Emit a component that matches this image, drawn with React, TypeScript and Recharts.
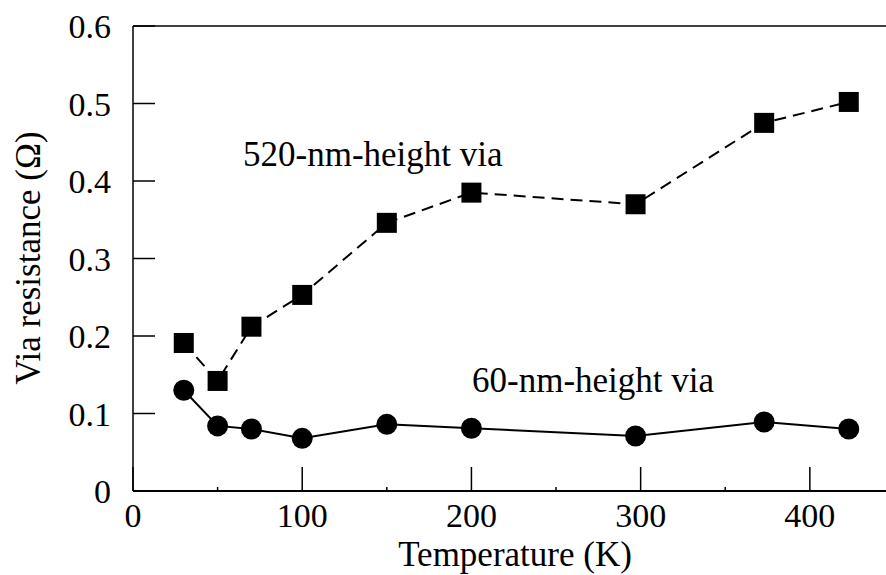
import React from "react";
import {
  LineChart,
  Line,
  XAxis,
  YAxis,
  ReferenceLine,
  Customized,
} from "recharts";

// Temperature (K) of each measurement
const temps = [30, 50, 70, 100, 150, 200, 297, 373, 423];
// Via resistance (Ohm), 520-nm-height via
const res520 = [0.191, 0.142, 0.212, 0.253, 0.346, 0.385, 0.37, 0.475, 0.502];
// Via resistance (Ohm), 60-nm-height via
const res60 = [0.13, 0.084, 0.08, 0.068, 0.086, 0.081, 0.071, 0.089, 0.08];

const xTicks = [0, 50, 100, 150, 200, 250, 300, 350, 400];
const yTicks = [0, 0.1, 0.2, 0.3, 0.4, 0.5, 0.6];

const FONT = "Liberation Serif";
const textStyle = { fontFamily: FONT };

const data = temps.map((t, i) => ({ t, r520: res520[i], r60: res60[i] }));

function XTick({ x, y, payload }: any) {
  const major = payload.value % 100 === 0;
  return (
    <g>
      <line x1={x} x2={x} y1={y} y2={y - (major ? 24 : 4)} stroke="#000" strokeWidth={1.5} />
      {major && (
        <text x={x} y={y + 36} textAnchor="middle" fontSize={34} style={textStyle} fill="#000">
          {payload.value}
        </text>
      )}
    </g>
  );
}

function YTick({ x, y, payload }: any) {
  const v: number = payload.value;
  return (
    <g>
      <line x1={x} x2={x + 22} y1={y} y2={y} stroke="#000" strokeWidth={1.5} />
      <text x={x - 22} y={y + 12} textAnchor="end" fontSize={34} style={textStyle} fill="#000">
        {v === 0 ? "0" : v.toFixed(1)}
      </text>
    </g>
  );
}

const squareDot = (p: any) => (
  <rect key={`sq-${p.index}`} x={p.cx - 10} y={p.cy - 10} width={20} height={20} fill="#000" />
);

const circleDot = (p: any) => (
  <circle key={`ci-${p.index}`} cx={p.cx} cy={p.cy} r={10.5} fill="#000" />
);

function Texts() {
  return (
    <g fill="#000">
      <text x={243} y={166} fontSize={35} style={textStyle}>520-nm-height via</text>
      <text x={472} y={392} fontSize={35} style={textStyle}>60-nm-height via</text>
      <text x={515} y={566} fontSize={35} textAnchor="middle" style={textStyle}>
        Temperature (K)
      </text>
      <text
        x={40}
        y={258}
        fontSize={35}
        textAnchor="middle"
        style={textStyle}
        transform="rotate(-90 40 258)"
      >
        Via resistance (Ω)
      </text>
    </g>
  );
}

export default function App() {
  return (
    <div style={{ position: "absolute", left: 0, top: 0, background: "#fff", fontFamily: FONT }}>
      <LineChart
        width={886}
        height={575}
        data={data}
        margin={{ top: 26, right: 0, bottom: 0, left: 0 }}
      >
        <XAxis
          dataKey="t"
          type="number"
          domain={[0, 445]}
          ticks={xTicks}
          tickSize={0}
          tickMargin={0}
          tick={<XTick />}
          axisLine={{ stroke: "#000", strokeWidth: 2 }}
          height={84}
          allowDataOverflow
        />
        <YAxis
          type="number"
          domain={[0, 0.6]}
          ticks={yTicks}
          tickSize={0}
          tickMargin={0}
          tick={<YTick />}
          axisLine={{ stroke: "#000", strokeWidth: 1.5 }}
          width={133}
          allowDataOverflow
        />
        <ReferenceLine y={0.6} stroke="#000" strokeWidth={1.5} />
        <Line
          dataKey="r520"
          stroke="#000"
          strokeWidth={2}
          strokeDasharray="12 7"
          dot={squareDot}
          isAnimationActive={false}
        />
        <Line
          dataKey="r60"
          stroke="#000"
          strokeWidth={2}
          dot={circleDot}
          isAnimationActive={false}
        />
        <Customized component={Texts} />
      </LineChart>
    </div>
  );
}
